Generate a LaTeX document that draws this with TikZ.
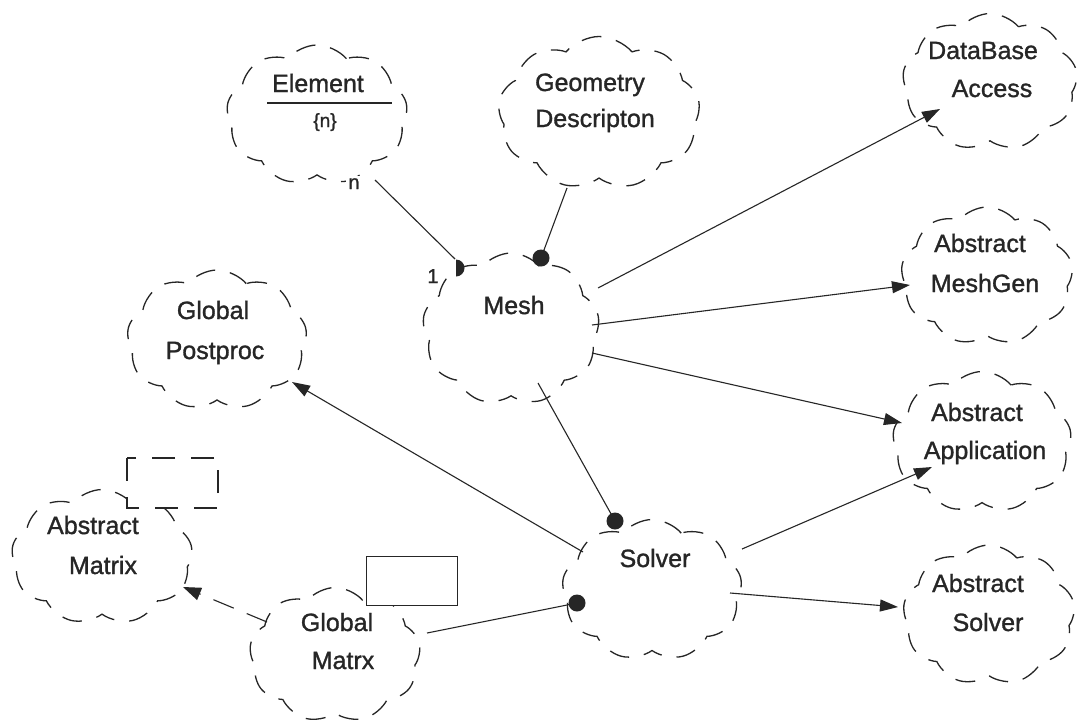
\documentclass[tikz,border=0pt]{standalone}
\usepackage{fontspec}
\setmainfont[FakeBold=1.2]{Liberation Sans}
\usetikzlibrary{shapes.symbols,arrows.meta,calc}
\definecolor{ink}{RGB}{38,38,38}
\begin{document}
\begin{tikzpicture}[x=1pt,y=-1pt,
  classcloud/.style={cloud, cloud puffs=9, cloud puff arc=100, cloud ignores aspect,
    draw=ink, line width=1.3pt, dash pattern=on 20pt off 15pt, inner sep=0pt},
  lbl/.style={font=\fontsize{25}{30}\selectfont, text=ink, anchor=base, inner sep=0pt},
  small/.style={font=\fontsize{20}{24}\selectfont, text=ink, anchor=base, inner sep=0pt},
  link/.style={draw=ink, line width=1.1pt},
  uses/.style={link, -{Triangle[length=18pt,width=12pt]}},
  inst/.style={link, dash pattern=on 22pt off 14pt, -{Triangle[length=18pt,width=13pt]}},
]
\useasboundingbox[fill=white] (0,0) rectangle (1078,723);

% class clouds
\node[classcloud, minimum width=181pt, minimum height=140pt] (elem)   at (317,115) {};
\node[classcloud, minimum width=202pt, minimum height=153pt] (geom)   at (599,113) {};
\node[classcloud, minimum width=175pt, minimum height=137pt] (dbase)  at (990,82)  {};
\node[classcloud, minimum width=172pt, minimum height=138pt] (amg)    at (987,276) {};
\node[classcloud, minimum width=177pt, minimum height=152pt] (mesh)   at (511,329) {};
\node[classcloud, minimum width=180pt, minimum height=140pt] (gpost)  at (217,340) {};
\node[classcloud, minimum width=179pt, minimum height=141pt] (aapp)   at (982,442) {};
\node[classcloud, minimum width=181pt, minimum height=135pt] (amat)   at (102,557) {};
\node[classcloud, minimum width=171pt, minimum height=135pt] (gmat)   at (335,655) {};
\node[classcloud, minimum width=180pt, minimum height=141pt] (solver) at (652,590) {};
\node[classcloud, minimum width=172pt, minimum height=140pt] (asolv)  at (989,615) {};

% template parameter boxes
\draw[ink, line width=1.1pt, dash pattern=on 23pt off 16pt, fill=white]
  ($(amat)+(25,-99)$) rectangle ($(amat)+(116,-49)$);
\draw[ink, line width=0.9pt, fill=white]
  ($(gmat)+(31,-99)$) rectangle ($(gmat)+(122,-50)$);

% class names
\node[lbl] (elemA)   at (318,92)  {Element};
\draw[ink, line width=1.1pt] (267,103) -- (392,103);
\node[small, font=\fontsize{19}{23}\selectfont] (elemB) at (325,127) {\{n\}};
\node[lbl] (geomA)   at (590,91)  {Geometry};
\node[lbl] (geomB)   at (595,127) {Descripton};
\node[lbl] (dbaseA)  at (983,59)  {DataBase};
\node[lbl] (dbaseB)  at (992,97)  {Access};
\node[lbl] (amgA)    at (980,252) {Abstract};
\node[lbl] (amgB)    at (985,292) {MeshGen};
\node[lbl] (meshA)   at (514,314) {Mesh};
\node[lbl] (gpostA)  at (213,319) {Global};
\node[lbl] (gpostB)  at (215,359) {Postproc};
\node[lbl] (aappA)   at (977,421) {Abstract};
\node[lbl] (aappB)   at (985,459) {Application};
\node[lbl] (amatA)   at (93,534)  {Abstract};
\node[lbl] (amatB)   at (103,574) {Matrix};
\node[lbl] (gmatA)   at (337,631) {Global};
\node[lbl] (gmatB)   at (343,669) {Matrx};
\node[lbl] (solverA) at (655,567) {Solver};
\node[lbl] (asolvA)  at (978,592) {Abstract};
\node[lbl] (asolvB)  at (988,631) {Solver};

% Element -- Mesh aggregation with cardinalities
\draw[link] ($(elem)+(58,65)$) -- ($(mesh)+(-56,-70)$);
\fill[ink] ($(mesh)+(-55,-52.5)$) arc[start angle=90, end angle=-90, radius=8.5] -- cycle;
\node[small, fill=white, inner sep=2pt] (cardN) at (354,189) {n};
\node[small] (card1) at (433,283) {1};

% has-relationships (filled dot at the owner)
\draw[link] ($(geom)+(-32,75)$) -- ($(mesh)+(30,-71)$);
\fill[ink] ($(mesh)+(30,-71)$) circle[radius=8.5];
\draw[link] ($(mesh)+(27,54)$) -- ($(solver)+(-37,-69)$);
\fill[ink] ($(solver)+(-37,-69)$) circle[radius=8.5];
\draw[link] ($(gmat)+(92,-22)$) -- ($(solver)+(-75,13)$);
\fill[ink] ($(solver)+(-75,13)$) circle[radius=8.5];

% using relationships
\draw[uses] ($(mesh)+(87,-41)$) -- ($(dbase)+(-50,27)$);
\draw[uses] ($(mesh)+(81,-4)$)  -- ($(amg)+(-77,9)$);
\draw[uses] ($(mesh)+(81,24)$)  -- ($(aapp)+(-80,-19)$);
\draw[uses] ($(solver)+(-69,-38)$) -- ($(gpost)+(75,42)$);
\draw[uses] ($(solver)+(90,-41)$)  -- ($(aapp)+(-50,25)$);
\draw[uses] ($(solver)+(78,3)$)    -- ($(asolv)+(-91,-8)$);

% instantiation
\draw[inst] ($(gmat)+(-68,-33)$) -- ($(amat)+(81,30)$);
\end{tikzpicture}
\end{document}
